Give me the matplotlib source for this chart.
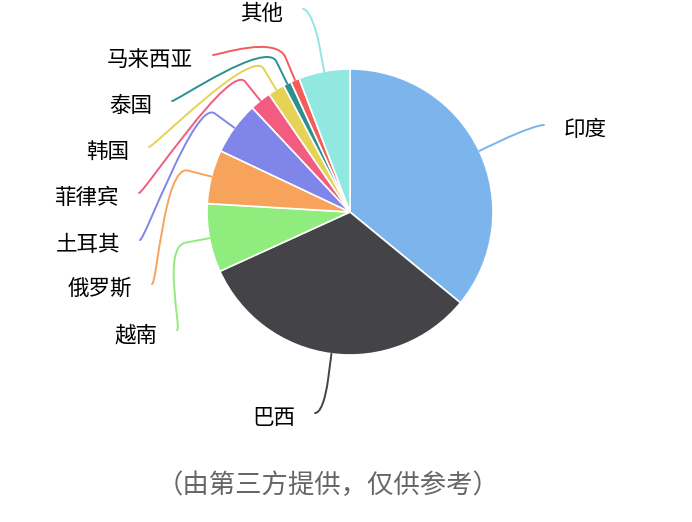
import numpy as np
import matplotlib
matplotlib.use("Agg")
from matplotlib import pyplot as plt
from matplotlib.path import Path
from matplotlib.patches import PathPatch

plt.rcParams["font.family"] = ["Noto Sans CJK SC", "DejaVu Sans"]

# data
countries = ["印度", "巴西", "越南", "俄罗斯", "土耳其", "菲律宾", "韩国", "泰国", "马来西亚", "其他"]
shares = [36.0, 32.3, 7.75, 6.1, 6.0, 2.4, 1.9, 0.9, 1.0, 5.8]
colors = ["#7cb5ec", "#434348", "#90ed7d", "#f7a35c", "#8085e9",
          "#f15c80", "#e4d354", "#2b908f", "#f45b5b", "#91e8e1"]
caption = "（由第三方提供，仅供参考）"

# layout (pixels)
W, H = 692, 522
CX, CY, R = 350, 212, 143
# end of each connector next to its label
label_anchor = [(544, 125), (315, 413), (177, 330), (152, 284), (140, 240),
                (139, 193), (149, 147), (172, 101), (213, 55), (303, 9)]
BREAK_R = 1.17
LABEL_GAP = 20


def to_data(px, py):
    return (px - CX) / R, (CY - py) / R


fig = plt.figure(figsize=(W / 100, H / 100), dpi=100)
ax = fig.add_axes([0, 0, 1, 1])

wedges, _ = ax.pie(
    shares,
    colors=colors,
    startangle=90,
    counterclock=False,
    radius=1,
    wedgeprops=dict(edgecolor="white", linewidth=1.2),
)

for w, name, color, (apx, apy) in zip(wedges, countries, colors, label_anchor):
    mid = np.deg2rad((w.theta1 + w.theta2) / 2)
    tx, ty = np.cos(mid), np.sin(mid)
    bx, by = BREAK_R * tx, BREAK_R * ty
    lx, ly = to_data(apx, apy)
    right_side = apx > CX
    c1x = lx + (-5 if right_side else 5) / R
    verts = [(lx, ly), (c1x, ly), (2 * bx - tx, 2 * by - ty), (bx, by), (tx, ty)]
    codes = [Path.MOVETO, Path.CURVE4, Path.CURVE4, Path.CURVE4, Path.LINETO]
    ax.add_patch(PathPatch(Path(verts, codes), facecolor="none", edgecolor=color,
                           linewidth=1.4, capstyle="round"))

    if right_side:
        x_txt, ha = to_data(apx + LABEL_GAP, 0)[0], "left"
    else:
        x_txt, ha = to_data(apx - LABEL_GAP, 0)[0], "right"
    y_txt = to_data(0, apy + 5)[1]
    ax.text(x_txt, y_txt, name, ha=ha, va="center", fontsize=15.5,
            fontweight="medium", color="#000000")

cx_, cy_ = to_data(328, 485)
ax.text(cx_, cy_, caption, ha="center", va="center", fontsize=19,
        fontweight="medium", color="#666666")

ax.set_xlim(-CX / R, (W - CX) / R)
ax.set_ylim((CY - H) / R, CY / R)
ax.set_aspect("equal")
ax.axis("off")

fig.savefig("out.png", dpi=100)
